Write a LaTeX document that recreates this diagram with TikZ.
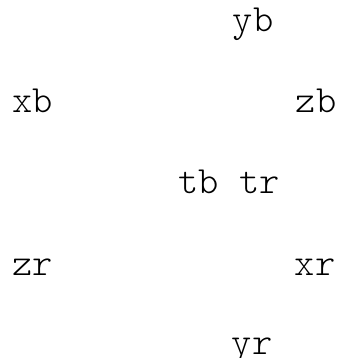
\documentclass[tikz,border=0pt]{standalone}
\begin{document}
\begin{tikzpicture}[x=1pt,y=1pt,
  lbl/.style={inner sep=0pt,anchor=base,font=\ttfamily\fontseries{l}\fontsize{38.5}{44}\selectfont}]
\useasboundingbox (0,0) rectangle (340,-358);
\node[lbl] (yb) at (253,-32) {yb};
\node[lbl] (xb) at (32.5,-113) {xb};
\node[lbl] (zb) at (316,-113) {zb};
\node[lbl] (t) at (229,-193) {tb tr};
\node[lbl] (zr) at (32.5,-275) {zr};
\node[lbl] (xr) at (315,-275) {xr};
\node[lbl] (yr) at (252,-354) {yr};
\end{tikzpicture}
\end{document}
